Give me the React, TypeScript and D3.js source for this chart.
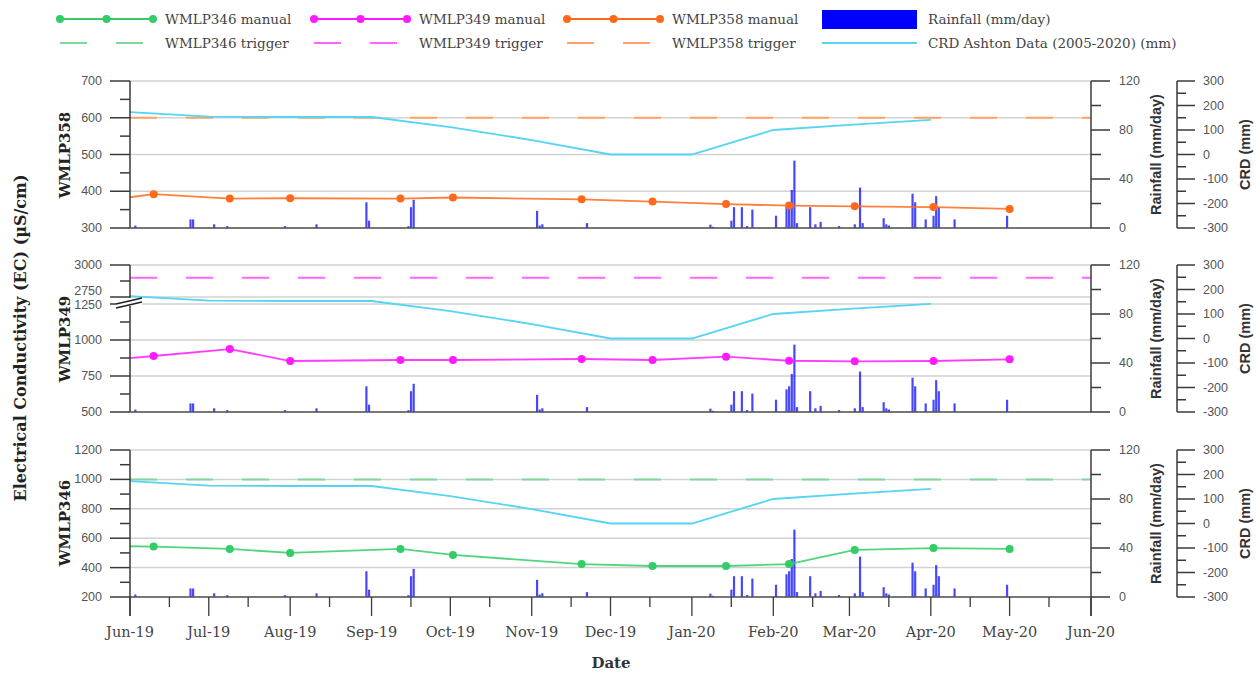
import React from 'react';
import * as d3 from 'd3';

// ---------- DATA ----------
const sampleDates = ["2019-05-28", "2019-06-10", "2019-07-09", "2019-08-01", "2019-09-12", "2019-10-02", "2019-11-20", "2019-12-17", "2020-01-14", "2020-02-07", "2020-03-03", "2020-04-02", "2020-05-01"];
const wmlp358Manual = [380, 392, 380, 381, 380, 383, 378, 372, 365, 361, 359, 357, 352];
const wmlp349Manual = [868, 889, 937, 854, 861, 861, 868, 861, 884, 856, 852, 854, 866];
const wmlp346Manual = [546, 543, 527, 500, 527, 486, 424, 411, 411, 424, 520, 533, 527];

const wmlp358Trigger = 600;
const wmlp349Trigger = 2900;
const wmlp346Trigger = 1000;

const crdDates = ["2019-06-01", "2019-07-01", "2019-08-01", "2019-09-01", "2019-10-01", "2019-11-01", "2019-12-01", "2020-01-01", "2020-02-01", "2020-03-01", "2020-04-01"];
const crdValues = [173, 155, 153, 153, 112, 59, 0, 0, 100, 121, 141];

const rainDates = [
  "2019-06-03", "2019-06-24", "2019-06-25", "2019-07-03", "2019-07-08", "2019-07-30", "2019-08-11",
  "2019-08-30", "2019-08-31", "2019-09-15", "2019-09-16", "2019-09-17", "2019-11-03", "2019-11-04",
  "2019-11-05", "2019-11-22", "2020-01-08", "2020-01-09", "2020-01-16", "2020-01-17", "2020-01-20",
  "2020-01-22", "2020-01-24", "2020-02-02", "2020-02-06", "2020-02-07", "2020-02-08", "2020-02-09",
  "2020-02-10", "2020-02-15", "2020-02-17", "2020-02-19", "2020-02-26", "2020-03-03", "2020-03-05",
  "2020-03-06", "2020-03-14", "2020-03-15", "2020-03-16", "2020-03-25", "2020-03-26", "2020-03-30",
  "2020-04-02", "2020-04-03", "2020-04-04", "2020-04-10", "2020-04-30"
];
const rainValues = [
  2, 7, 7, 3, 1.5, 1.5, 3,
  21, 6, 1.5, 17, 23, 14, 2,
  3, 4, 2.7, 1, 6, 17, 17,
  1.6, 15, 10, 18.5, 21, 31, 55,
  4, 17, 3, 5, 1.6, 3, 33,
  4, 8, 3, 2, 28, 21, 7,
  10, 26, 17, 7, 10
];

const xTickLabels = ["Jun-19", "Jul-19", "Aug-19", "Sep-19", "Oct-19", "Nov-19", "Dec-19", "Jan-20", "Feb-20", "Mar-20", "Apr-20", "May-20", "Jun-20"];
const rainTicks = [0, 40, 80, 120];
const rainMinor = [20, 60, 100];
const crdTicks = [-300, -200, -100, 0, 100, 200, 300];
const crdMinor = [-250, -150, -50, 50, 150, 250];

const legendManual = ["WMLP346 manual", "WMLP349 manual", "WMLP358 manual"];
const legendTrigger = ["WMLP346 trigger", "WMLP349 trigger", "WMLP358 trigger"];

// ---------- STYLE ----------
const C346 = "#33cc66", C349 = "#ff1aff", C358 = "#ff6a1a";
const T346 = "#7fd89a", T349 = "#ff66ff", T358 = "#ffa366";
const CRD = "#55d4f5";
const RAIN = "#0000ff";
const AXIS = "#3a3a3a";
const GRID = "#d2d2d2";
const TICKTXT = "#555";
const SERIF = "'DejaVu Serif', serif";
const SANS = "'Liberation Sans', Arial, sans-serif";
const DASH = "27 29";

const parse = d3.timeParse("%Y-%m-%d");
const X0 = 130, X1 = 1091;
const x = d3.scaleTime().domain([new Date(2019, 5, 1), new Date(2020, 5, 1)]).range([X0, X1]);

type Panel = {
  top: number; bottom: number; ec: (v: number) => number; major: number[]; minor: number[];
  values: number[]; trigger: number; color: string; tcolor: string; name: string; nameY: number; axisExt: number;
  labelShift?: Record<number, number>;
};

const lower349 = d3.scaleLinear().domain([500, 1250]).range([412, 304]);
const upper349 = d3.scaleLinear().domain([2750, 3000]).range([297, 265]);
const ec349 = (v: number) => (v <= 1250 ? lower349(v) : upper349(v));

const panels: Panel[] = [
  {
    top: 81, bottom: 228, ec: d3.scaleLinear().domain([300, 700]).range([228, 81]),
    major: [300, 400, 500, 600, 700], minor: [350, 450, 550, 650],
    values: wmlp358Manual, trigger: wmlp358Trigger, color: C358, tcolor: T358, name: "WMLP358", nameY: 155, axisExt: 0,
  },
  {
    top: 265, bottom: 412, ec: ec349,
    major: [500, 750, 1000, 1250, 2750, 3000], minor: [625, 875, 1125, 2875],
    values: wmlp349Manual, trigger: wmlp349Trigger, color: C349, tcolor: T349, name: "WMLP349", nameY: 339, axisExt: 0,
    labelShift: { 2750: -6, 1250: 1 },
  },
  {
    top: 450, bottom: 597, ec: d3.scaleLinear().domain([200, 1200]).range([597, 450]),
    major: [200, 400, 600, 800, 1000, 1200], minor: [300, 500, 700, 900, 1100],
    values: wmlp346Manual, trigger: wmlp346Trigger, color: C346, tcolor: T346, name: "WMLP346", nameY: 523, axisExt: 19,
  },
];

const samples = sampleDates.map((d) => parse(d)!);
const crd = crdDates.map((d, i) => ({ date: parse(d)!, v: crdValues[i] }));
const rain = rainDates.map((d, i) => ({ date: parse(d)!, v: rainValues[i] }));

const months = d3.timeMonth.range(new Date(2019, 5, 1), new Date(2020, 5, 2));
const midMonths = months.slice(0, 12).map((m) => new Date(m.getFullYear(), m.getMonth(), 16));

function PanelView({ p, idx }: { p: Panel; idx: number }) {
  const rainY = d3.scaleLinear().domain([0, 120]).range([p.bottom, p.top]);
  const crdY = d3.scaleLinear().domain([-300, 300]).range([p.bottom, p.top]);
  const ecLine = d3.line<{ date: Date; v: number }>().x((d) => x(d.date)).y((d) => p.ec(d.v));
  const crdLine = d3.line<{ date: Date; v: number }>().x((d) => x(d.date)).y((d) => crdY(d.v));
  const manual = samples.map((date, i) => ({ date, v: p.values[i] }));
  const RA = X1; // rainfall axis x
  const CA = 1177; // CRD axis x
  const shift = p.labelShift || {};
  return (
    <g>
      {p.major.map((v) => (
        <line key={"g" + v} x1={X0} x2={X1} y1={p.ec(v)} y2={p.ec(v)} stroke={GRID} strokeWidth={1.5} />
      ))}
      {rain.map((r, i) => (
        <rect key={"r" + i} x={x(r.date) - 1} width={2.2} y={rainY(r.v)} height={p.bottom - rainY(r.v)} fill={RAIN} opacity={0.72} />
      ))}
      <g clipPath={`url(#plotclip)`}>
        <line x1={X0} x2={X1} y1={p.ec(p.trigger)} y2={p.ec(p.trigger)} stroke={p.tcolor} strokeWidth={2} strokeDasharray={DASH} />
        <path d={crdLine(crd)!} fill="none" stroke={CRD} strokeWidth={1.8} />
        <path d={ecLine(manual)!} fill="none" stroke={p.color} strokeWidth={1.8} opacity={0.85} />
        {manual.map((d, i) => (
          <circle key={"c" + i} cx={x(d.date)} cy={p.ec(d.v)} r={4} fill={p.color} />
        ))}
      </g>
      <line x1={X0} x2={X1} y1={p.bottom} y2={p.bottom} stroke="#555" strokeWidth={1.6} />
      <line x1={X0} x2={X0} y1={p.top} y2={p.bottom + p.axisExt} stroke={AXIS} strokeWidth={1.5} />
      {p.major.map((v) => (
        <g key={"lt" + v}>
          <line x1={X0 - 20} x2={X0} y1={p.ec(v)} y2={p.ec(v)} stroke={AXIS} strokeWidth={1.5} />
          <text x={102} y={p.ec(v) + (shift[v] || 0)} textAnchor="end" dominantBaseline="central" fontFamily={SANS} fontSize={12.5} fill={TICKTXT}>{v}</text>
        </g>
      ))}
      {p.minor.map((v) => (
        <line key={"lm" + v} x1={X0 - 10} x2={X0} y1={p.ec(v)} y2={p.ec(v)} stroke={AXIS} strokeWidth={1.5} />
      ))}
      {idx === 1 && (
        <g>
          <rect x={116} y={298} width={26} height={8} fill="#fff" />
          <line x1={116} y1={304} x2={142} y2={298} stroke="#222" strokeWidth={1.6} />
          <line x1={116} y1={308} x2={142} y2={302} stroke="#222" strokeWidth={1.6} />
        </g>
      )}
      <text transform={`translate(65,${p.nameY}) rotate(-90)`} textAnchor="middle" dominantBaseline="central" fontFamily={SERIF} fontWeight="bold" fontSize={15} fill="#222">{p.name}</text>
      <line x1={RA} x2={RA} y1={p.top} y2={p.bottom + p.axisExt} stroke={AXIS} strokeWidth={1.5} />
      {rainTicks.map((v) => (
        <g key={"rt" + v}>
          <line x1={RA} x2={RA + 19} y1={rainY(v)} y2={rainY(v)} stroke={AXIS} strokeWidth={1.5} />
          <text x={1119} y={rainY(v)} dominantBaseline="central" fontFamily={SANS} fontSize={12.5} fill={TICKTXT}>{v}</text>
        </g>
      ))}
      {rainMinor.map((v) => (
        <line key={"rm" + v} x1={RA} x2={RA + 10} y1={rainY(v)} y2={rainY(v)} stroke={AXIS} strokeWidth={1.5} />
      ))}
      <text transform={`translate(1156,${(p.top + p.bottom) / 2}) rotate(-90)`} textAnchor="middle" dominantBaseline="central" fontFamily={SANS} fontWeight="bold" fontSize={14.5} fill="#333">Rainfall (mm/day)</text>
      <line x1={CA} x2={CA} y1={p.top} y2={p.bottom} stroke={AXIS} strokeWidth={1.5} />
      {crdTicks.map((v) => (
        <g key={"ct" + v}>
          <line x1={CA} x2={CA + 18} y1={crdY(v)} y2={crdY(v)} stroke={AXIS} strokeWidth={1.5} />
          <text x={1203} y={crdY(v)} dominantBaseline="central" fontFamily={SANS} fontSize={12.5} fill={TICKTXT}>{v}</text>
        </g>
      ))}
      {crdMinor.map((v) => (
        <line key={"cm" + v} x1={CA} x2={CA + 9} y1={crdY(v)} y2={crdY(v)} stroke={AXIS} strokeWidth={1.5} />
      ))}
      <text transform={`translate(1245,${(p.top + p.bottom) / 2}) rotate(-90)`} textAnchor="middle" dominantBaseline="central" fontFamily={SANS} fontWeight="bold" fontSize={14.5} fill="#333">CRD (mm)</text>
    </g>
  );
}

function Legend() {
  const cols = [60, 314, 567];
  const mcol = [C346, C349, C358];
  const tcol = [T346, T349, T358];
  const y1 = 19, y2 = 43;
  const fs = 13.5;
  return (
    <g fontFamily={SERIF} fontSize={fs} fill="#444">
      {cols.map((cx, i) => (
        <g key={i}>
          <line x1={cx} x2={cx + 93} y1={y1} y2={y1} stroke={mcol[i]} strokeWidth={1.8} />
          {[0, 46.5, 93].map((o) => (
            <circle key={o} cx={cx + o} cy={y1} r={4} fill={mcol[i]} />
          ))}
          <text x={cx + 105} y={y1} dominantBaseline="central">{legendManual[i]}</text>
          <line x1={cx} x2={cx + 93} y1={y2} y2={y2} stroke={tcol[i]} strokeWidth={2} strokeDasharray={DASH} />
          <text x={cx + 105} y={y2} dominantBaseline="central">{legendTrigger[i]}</text>
        </g>
      ))}
      <rect x={822} y={10} width={95} height={19} fill={RAIN} />
      <text x={928} y={y1} dominantBaseline="central">Rainfall (mm/day)</text>
      <line x1={822} x2={917} y1={y2} y2={y2} stroke={CRD} strokeWidth={1.8} />
      <text x={928} y={y2} dominantBaseline="central">CRD Ashton Data (2005-2020) (mm)</text>
    </g>
  );
}

export default function App() {
  const axisY = 597;
  return (
    <svg width={1256} height={673} style={{ position: 'absolute', left: 0, top: 0, background: '#fff' }}>
      <defs>
        <clipPath id="plotclip">
          <rect x={X0} y={0} width={X1 - X0} height={673} />
        </clipPath>
      </defs>
      <rect width={1256} height={673} fill="#fff" />
      <Legend />
      {panels.map((p, i) => (
        <PanelView key={i} p={p} idx={i} />
      ))}
      {months.map((m, i) => (
        <g key={"xm" + i}>
          <line x1={x(m)} x2={x(m)} y1={axisY} y2={616} stroke={AXIS} strokeWidth={1.3} />
          <text x={x(m)} y={632} textAnchor="middle" dominantBaseline="central" fontFamily={SERIF} fontSize={14.5} fill="#444">{xTickLabels[i]}</text>
        </g>
      ))}
      {midMonths.map((m, i) => (
        <line key={"xn" + i} x1={x(m)} x2={x(m)} y1={axisY} y2={607} stroke={AXIS} strokeWidth={1.3} />
      ))}
      <text x={611} y={663} textAnchor="middle" dominantBaseline="central" fontFamily={SERIF} fontWeight="bold" fontSize={15} fill="#333">Date</text>
      <text transform="translate(20,338) rotate(-90)" textAnchor="middle" dominantBaseline="central" fontFamily={SERIF} fontWeight="bold" fontSize={16} fill="#222">Electrical Conductivity (EC) (µS/cm)</text>
    </svg>
  );
}
